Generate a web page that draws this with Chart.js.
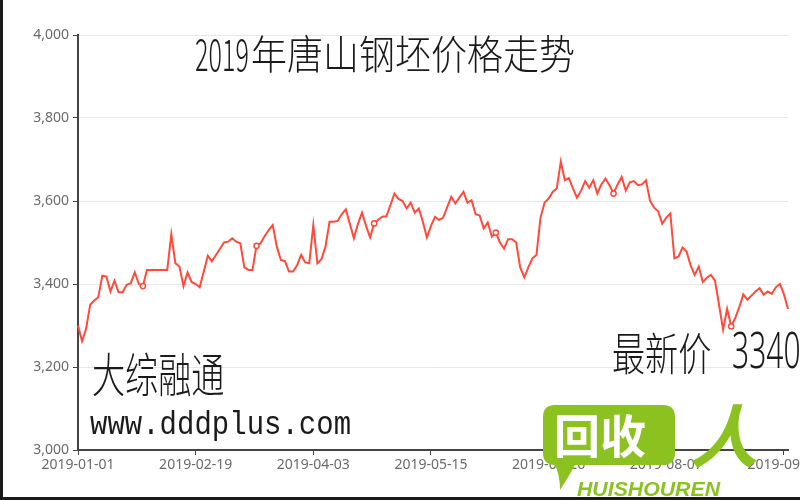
<!DOCTYPE html>
<html>
<head>
<meta charset="utf-8">
<script src="https://cdn.jsdelivr.net/npm/chart.js@4/dist/chart.umd.min.js"></script>
<style>
  html, body { margin: 0; padding: 0; background: #fff; }
  #wrap { position: relative; width: 800px; height: 500px; overflow: hidden; }
  #frame { position: absolute; left: 0; top: 0; width: 797px; height: 497px;
           border-left: 3px solid #1a1a1a; border-bottom: 3px solid #1a1a1a; pointer-events: none; }
  .txt { position: absolute; white-space: nowrap; line-height: 1; color: #1a1a1a; font-weight: 300;
         transform-origin: 0 0; font-family: "Noto Sans CJK SC", sans-serif; }
  #logo { position: absolute; left: 0; top: 0; pointer-events: none; }
</style>
</head>
<body>
<div id="wrap">
  <canvas id="priceChart" width="800" height="500"></canvas>

  <div class="txt" style="left:195px; top:30px; font-size:42px; transform:scale(0.6,1.05);">2019</div>
  <div class="txt" style="left:251px; top:31px; font-size:36px; transform:scaleY(1.12);">年唐山钢坯价格走势</div>
  <div class="txt" style="left:92px; top:348px; font-size:36px; transform:scale(0.92,1.28);">大综融通</div>
  <div class="txt" style="left:90px; top:409px; font-family:'Liberation Mono', monospace; font-size:29px; font-weight:normal; transform:scaleY(1.15);">www.dddplus.com</div>
  <div class="txt" style="left:612px; top:328px; font-size:36px; transform:scale(0.92,1.25);">最新价</div>
  <div class="txt" style="left:732px; top:324px; font-family:'Noto Sans', sans-serif; font-size:50px; transform:scaleX(0.6);">3340</div>

  <svg id="logo" width="800" height="500">
    <path d="M555 405 H663 Q675 405 675 417 V453 Q675 465 663 465 H575 Q568 478 560 490 Q560 475 555 465 Q543 465 543 453 V417 Q543 405 555 405 Z" fill="#8cc220"/>
    <text x="554" y="453" font-family="Noto Sans CJK SC" font-weight="bold" font-size="46" fill="#fff">回收</text>
    <text x="690" y="462" font-family="Noto Sans CJK SC" font-weight="bold" font-size="68" font-style="italic" fill="#8cc220">人</text>
    <text x="577" y="496" font-family="Liberation Sans" font-weight="bold" font-style="italic" font-size="21" fill="#8cc220" textLength="143" lengthAdjust="spacingAndGlyphs">HUISHOUREN</text>
  </svg>
  <div id="frame"></div>
</div>

<script>
// Tangshan billet price, 2019 (yuan/ton)
const prices = [
  3300, 3262, 3292, 3350, 3360, 3368, 3420, 3418, 3382, 3408,
  3380, 3380, 3398, 3402, 3428, 3400, 3395, 3434, 3434, 3434,
  3434, 3434, 3434, 3520, 3450, 3442, 3395, 3428, 3405, 3400,
  3392, 3430, 3468, 3455, 3470, 3485, 3500, 3502, 3510, 3502,
  3498, 3440, 3434, 3434, 3492, 3498, 3515, 3530, 3542, 3490,
  3458, 3455, 3430, 3430, 3445, 3470, 3452, 3450, 3542, 3450,
  3460, 3490, 3550, 3550, 3552, 3568, 3580, 3545, 3510, 3545,
  3572, 3540, 3512, 3546, 3555, 3562, 3563, 3590, 3618, 3605,
  3600, 3582, 3596, 3572, 3582, 3550, 3512, 3540, 3562, 3554,
  3560, 3585, 3610, 3594, 3608, 3622, 3596, 3602, 3568, 3565,
  3534, 3548, 3514, 3524, 3500, 3485, 3508, 3508, 3500, 3440,
  3416, 3440, 3462, 3470, 3560, 3596, 3606, 3622, 3630, 3695,
  3650, 3655, 3630, 3608, 3625, 3648, 3632, 3650, 3618, 3640,
  3654, 3638, 3618, 3640, 3658, 3625, 3645, 3648, 3638, 3640,
  3650, 3600, 3584, 3575, 3545, 3560, 3570, 3462, 3466, 3488,
  3478, 3445, 3422, 3442, 3405, 3415, 3422, 3408, 3350, 3290,
  3340, 3298, 3318, 3345, 3375, 3362, 3372, 3382, 3390, 3374,
  3382, 3376, 3392, 3400, 3375, 3340
];

// dates shown on the x axis, one every 29 trading days
const tickLabels = ['2019-01-01', '2019-02-19', '2019-04-03', '2019-05-15', '2019-06-26', '2019-08-07', '2019-09-18'];
const tickEvery = 29;

// points drawn with a small hollow marker
const markerIdx = [16, 44, 73, 103, 132, 161];

const yTicks = { min: 3000, max: 4000, step: 200 };

const labels = prices.map((_, i) => (i % tickEvery === 0 ? (tickLabels[i / tickEvery] || '') : ''));
const radii = prices.map((_, i) => (markerIdx.includes(i) ? 2.6 : 0));

const red = '#ff4a3c';
const tickFont = { family: 'Noto Sans', size: 14 };

new Chart(document.getElementById('priceChart'), {
    type: 'line',
    data: {
        labels: labels,
        datasets: [{
            data: prices,
            borderColor: red,
            borderWidth: 2,
            tension: 0,
            fill: false,
            pointRadius: radii,
            pointBackgroundColor: '#fff',
            pointBorderColor: red,
            pointBorderWidth: 1.5
        }]
    },
    options: {
        responsive: false,
        animation: false,
        layout: { padding: { top: 35, right: 12, left: 0, bottom: 0 } },
        plugins: { legend: { display: false }, tooltip: { enabled: false } },
        scales: {
            x: {
                grid: { drawOnChartArea: false, drawTicks: true, tickLength: 5, tickColor: '#444' },
                border: { color: '#444', width: 2 },
                ticks: {
                    autoSkip: false, maxRotation: 0, color: '#6a6a6a', font: tickFont, padding: 2,
                    callback: (v, i) => labels[i] || null
                },
                afterFit: s => { s.height = 50; s.paddingLeft = 0; s.paddingRight = 0; }
            },
            y: {
                min: yTicks.min, max: yTicks.max,
                ticks: { stepSize: yTicks.step, color: '#6a6a6a', font: tickFont, padding: 4 },
                grid: { color: '#e8e8e8', tickColor: '#444', tickLength: 5 },
                border: { color: '#444', width: 2 },
                afterFit: s => { s.width = 78; }
            }
        }
    }
});
</script>
</body>
</html>
